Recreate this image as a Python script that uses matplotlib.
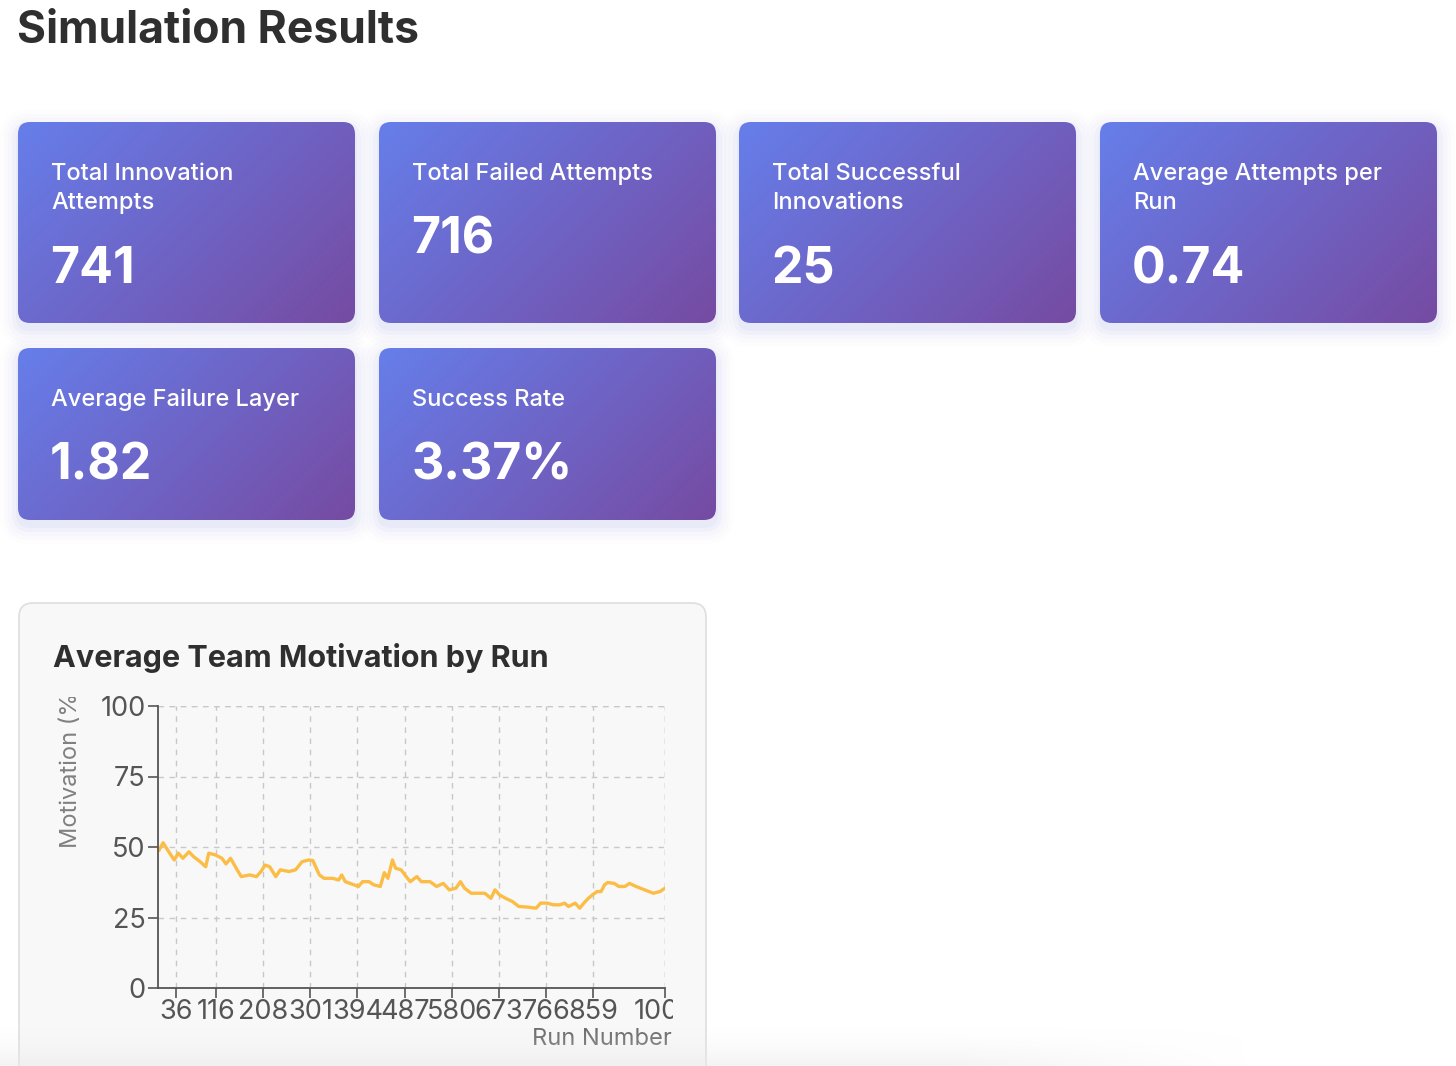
import numpy as np
import matplotlib
matplotlib.use("Agg")
import matplotlib.pyplot as plt
from matplotlib.patches import FancyBboxPatch
from matplotlib.colors import LinearSegmentedColormap
from matplotlib.transforms import Bbox, TransformedBbox

# Summary cards
card_labels = [
    "Total Innovation\nAttempts",
    "Total Failed Attempts",
    "Total Successful\nInnovations",
    "Average Attempts per\nRun",
    "Average Failure Layer",
    "Success Rate",
]
card_values = ["741", "716", "25", "0.74", "1.82", "3.37%"]

# Motivation series
run_number = [3, 11, 24, 33, 41, 50, 62, 71, 84, 95, 101, 114, 127, 135, 144, 157,
              165, 182, 195, 204, 212, 221, 233, 242, 259, 272, 285, 298, 306, 319,
              328, 345, 357, 363, 370, 387, 396, 404, 417, 426, 439, 447, 454, 463,
              469, 480, 490, 498, 511, 520, 537, 550, 563, 575, 588, 597, 605, 618,
              635, 645, 657, 665, 674, 686, 699, 712, 729, 746, 755, 768, 780, 793,
              802, 810, 823, 832, 840, 849, 857, 866, 874, 881, 887, 900, 909, 921,
              930, 943, 960, 977, 990, 1000]
motivation = [48.9, 51.5, 47.8, 45.4, 47.8, 46.0, 48.3, 46.6, 44.8, 43.0, 47.8, 47.2,
              46.0, 44.0, 46.0, 41.9, 39.5, 40.1, 39.5, 41.3, 43.6, 43.0, 39.5, 41.9,
              41.3, 41.9, 44.8, 45.4, 45.2, 40.1, 38.9, 38.9, 38.3, 40.1, 37.7, 36.6,
              36.0, 37.7, 37.7, 36.6, 36.0, 40.9, 38.9, 45.4, 42.5, 41.9, 39.5, 37.7,
              39.5, 37.7, 37.7, 36.0, 37.1, 34.8, 35.4, 37.7, 35.4, 33.6, 33.6, 33.6,
              31.8, 34.8, 33.0, 31.8, 30.7, 28.9, 28.7, 28.3, 30.1, 30.1, 29.5, 29.5,
              30.1, 28.9, 30.1, 28.3, 30.1, 31.8, 33.0, 34.2, 34.2, 36.6, 37.4, 37.1,
              36.0, 36.0, 37.1, 36.0, 34.8, 33.6, 34.2, 35.4]
x_ticks = [36, 116, 208, 301, 394, 487, 580, 673, 766, 859, 1000]
y_ticks = [0, 25, 50, 75, 100]

W, H = 1456, 1066
FONT = ["Inter", "DejaVu Sans"]
DARK = "#2f2f2f"
GRID = "#c8c8c8"
GRAD = LinearSegmentedColormap.from_list("card", ["#667eea", "#764ba2"])

plt.rcParams["font.family"] = FONT

fig = plt.figure(figsize=(W / 100, H / 100), dpi=100)
fig.patch.set_facecolor("white")
ax = fig.add_axes([0, 0, 1, 1])
ax.set_xlim(0, W)
ax.set_ylim(H, 0)
ax.axis("off")


def gradient_card(x0, y0, w, h):
    # soft shadow under the card
    for i, a in enumerate([0.045, 0.035, 0.025, 0.018, 0.012]):
        pad = 2 + i * 4
        sh = FancyBboxPatch((x0 - pad, y0 - pad + 6), w + 2 * pad, h + 2 * pad,
                            boxstyle=f"round,pad=0,rounding_size={12 + pad}",
                            facecolor="#6a6fd8", edgecolor="none", alpha=a, zorder=1)
        ax.add_patch(sh)
    box = FancyBboxPatch((x0, y0), w, h, boxstyle="round,pad=0,rounding_size=12",
                         facecolor="none", edgecolor="none", zorder=2)
    ax.add_patch(box)
    yy, xx = np.mgrid[0:1:120j, 0:1:160j]
    g = (xx * w + yy * h) / (w + h)
    im = ax.imshow(g, cmap=GRAD, extent=(x0, x0 + w, y0 + h, y0), origin="upper",
                   aspect="auto", zorder=2, interpolation="bilinear")
    im.set_clip_path(box)


# title
ax.text(17, 31, "Simulation Results", fontsize=32, fontweight="bold", color=DARK,
        ha="left", va="center")

cols = [18, 379, 739, 1100]
card_w = 337
slots = [(cols[0], 122, 201), (cols[1], 122, 201), (cols[2], 122, 201), (cols[3], 122, 201),
         (cols[0], 348, 172), (cols[1], 348, 172)]
for (cx, cy, ch), lab, val in zip(slots, card_labels, card_values):
    gradient_card(cx, cy, card_w, ch)
    lines = lab.split("\n")
    for k, line in enumerate(lines):
        ax.text(cx + 33, cy + 58 + 29 * k, line, fontsize=17, fontweight="medium",
                color="white", ha="left", va="baseline", zorder=3)
    ax.text(cx + 32, cy + 131 + 30 * (len(lines) - 1), val, fontsize=36,
            fontweight="bold", color="white", ha="left", va="baseline", zorder=3)

# chart panel
panel = FancyBboxPatch((19, 603), 687, 520, boxstyle="round,pad=0,rounding_size=14",
                       facecolor="#f8f8f8", edgecolor="#dedede", linewidth=1.2, zorder=1)
ax.add_patch(panel)
ax.text(53, 667, "Average Team Motivation by Run", fontsize=22, fontweight="bold",
        color=DARK, ha="left", va="baseline", zorder=3)

# line chart
left, right, top, bottom = 158, 665, 706, 988
cax = fig.add_axes([left / W, 1 - bottom / H, (right - left) / W, (bottom - top) / H])
cax.set_facecolor("none")
cax.plot(run_number, motivation, color="#fbbd45", linewidth=2.4, solid_joinstyle="round")
cax.set_xlim(1, 1000)
cax.set_ylim(0, 100)
cax.set_xticks(x_ticks)
cax.set_yticks(y_ticks)
cax.grid(True, color=GRID, linestyle=(0, (4, 4)), linewidth=1.0)
for s in ["top", "right"]:
    cax.spines[s].set_visible(False)
for s in ["left", "bottom"]:
    cax.spines[s].set_color("#555555")
    cax.spines[s].set_linewidth(1.3)
cax.plot([1, 1000], [100, 100], color=GRID, linestyle=(0, (4, 4)), linewidth=1.0)
cax.plot([1000, 1000], [0, 100], color=GRID, linestyle=(0, (4, 4)), linewidth=1.0)
cax.tick_params(axis="both", colors="#555555", labelcolor="#555555", labelsize=19.5,
                length=7, width=1.2)
cax.tick_params(axis="x", pad=1)
cax.tick_params(axis="y", pad=2)

for lbl in cax.get_xticklabels():
    lbl.set_clip_box(TransformedBbox(Bbox.from_extents(0, 0, 673 / W, 1), fig.transFigure))
    lbl.set_clip_on(True)

ax.text(672, 1045, "Run Number", fontsize=17, color="#6e6e6e", ha="right",
        va="baseline", zorder=3)
ylab = ax.text(77, 848, "Motivation (%)", fontsize=17, color="#808080", ha="left",
               va="baseline", rotation=90, rotation_mode="anchor", zorder=3)
ylab.set_clip_box(TransformedBbox(Bbox.from_extents(0, 0, 1, 1 - 697 / H), fig.transFigure))
ylab.set_clip_on(True)

# soft fade along the bottom edge
vy = np.linspace(0, 1, 40).reshape(-1, 1)
hx = np.clip((1250 - np.linspace(0, W, 300)) / 300, 0, 1).reshape(1, -1)
alpha = (vy ** 1.5) * hx * 0.55
ax.imshow(np.dstack([np.full(alpha.shape, 0.92)] * 3 + [alpha]),
          extent=(0, W, H, H - 40), aspect="auto", zorder=4)

ax.set_xlim(0, W)
ax.set_ylim(H, 0)
fig.savefig("out.png", dpi=100, facecolor="white")
